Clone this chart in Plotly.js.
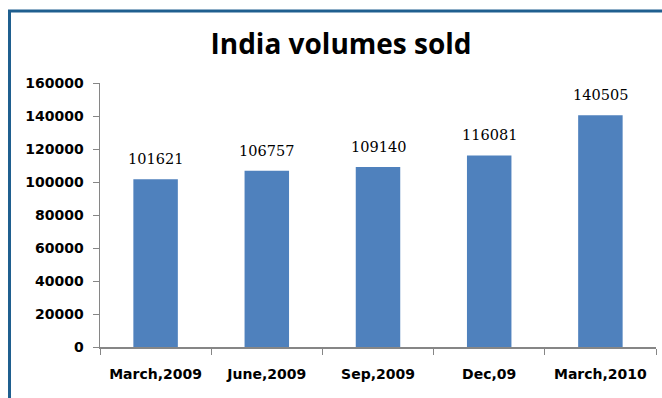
<!DOCTYPE html>
<html>
<head>
<meta charset="utf-8">
<script src="https://cdn.plot.ly/plotly-3.0.1.min.js"></script>
<style>
  html, body { margin: 0; padding: 0; background: #ffffff; }
  #chart { width: 662px; height: 398px; }
</style>
</head>
<body>
<div id="chart"></div>
<script>
const categories = ["March,2009", "June,2009", "Sep,2009", "Dec,09", "March,2010"];
const volumes = [101621, 106757, 109140, 116081, 140505];
const yTickValues = [0, 20000, 40000, 60000, 80000, 100000, 120000, 140000, 160000];
const chartTitle = "India volumes sold";

const axisColor = "#868686";
const barColor = "#4f81bd";
const frameColor = "#1f5f8f";

const labelFont = { family: "'DejaVu Sans', sans-serif", size: 14, color: "#000000", weight: "bold" };

const annotations = categories.map((c, i) => ({
  x: c, y: volumes[i], xref: "x", yref: "y",
  text: String(volumes[i]),
  showarrow: false, yanchor: "bottom", yshift: 10,
  font: { family: "'DejaVu Serif', serif", size: 14.5, color: "#000000" }
}));

// frame line (left and top) in pixel terms converted to paper coords
const L = 100, R = 6, T = 83, B = 51, W = 662, H = 398;
const pw = W - L - R, ph = H - T - B;
const fx = (px) => (px - L) / pw;
const fy = (py) => (H - B - py) / ph;

const data = [{
  type: "bar",
  x: categories,
  y: volumes,
  marker: { color: barColor },
  hoverinfo: "x+y"
}];

const layout = {
  width: W, height: H,
  margin: { l: L, r: R, t: T, b: B, pad: 0 },
  paper_bgcolor: "#ffffff",
  plot_bgcolor: "#ffffff",
  bargap: 0.6,
  showlegend: false,
  title: {
    text: "<b>" + chartTitle + "</b>",
    font: { family: "'Open Sans', sans-serif", size: 28, color: "#000000" },
    x: 341 / W, xanchor: "center", xref: "container",
    y: 1 - 44 / H, yanchor: "middle", yref: "container"
  },
  xaxis: {
    type: "category",
    showline: true, linecolor: axisColor, linewidth: 1.5,
    ticks: "outside", ticklen: 6, tickcolor: axisColor, tickwidth: 1,
    tickson: "boundaries",
    showgrid: false, zeroline: false,
    tickfont: labelFont,
    ticklabelstandoff: 14,
    fixedrange: true
  },
  yaxis: {
    range: [0, 160000],
    tickvals: yTickValues,
    ticktext: yTickValues.map(String),
    showline: true, linecolor: axisColor, linewidth: 1.5,
    ticks: "outside", ticklen: 6, tickcolor: axisColor, tickwidth: 1,
    showgrid: false, zeroline: false,
    tickfont: labelFont,
    ticklabelstandoff: 6,
    fixedrange: true
  },
  annotations: annotations,
  shapes: [{
    type: "path", xref: "paper", yref: "paper",
    path: `M ${fx(9.5)} ${fy(H + 5)} L ${fx(9.5)} ${fy(11)} L ${fx(W + 5)} ${fy(11)}`,
    line: { color: frameColor, width: 3 }
  }]
};

Plotly.newPlot("chart", data, layout, { displayModeBar: false, staticPlot: true });
</script>
</body>
</html>
